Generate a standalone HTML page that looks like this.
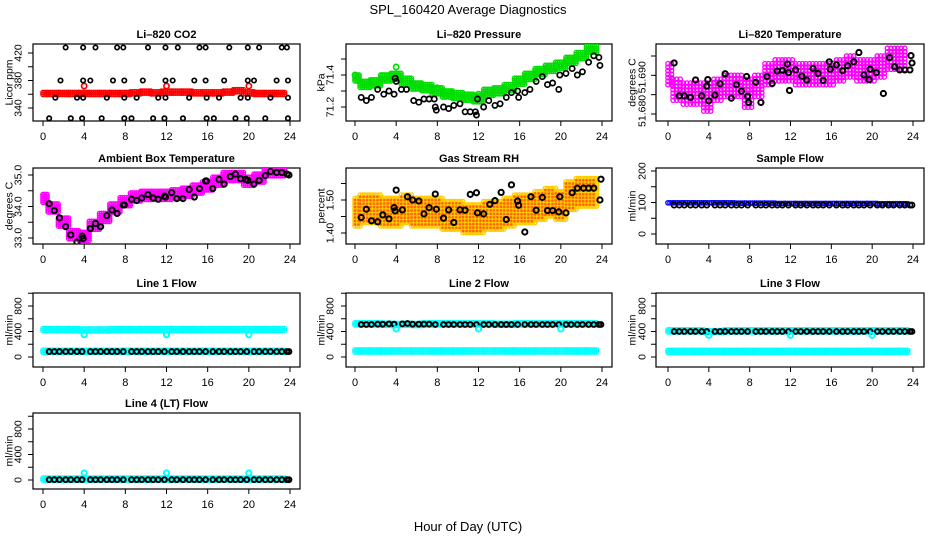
<!DOCTYPE html>
<html><head><meta charset="utf-8"><style>
html,body{margin:0;padding:0;background:#fff;}
svg{display:block;font-family:"Liberation Sans",sans-serif;}
</style></head><body>
<svg id="chart" width="936" height="540" viewBox="0 0 936 540">
<text x="468" y="14" text-anchor="middle" font-size="13">SPL_160420  Average Diagnostics</text>
<text x="468" y="531" text-anchor="middle" font-size="13">Hour of Day (UTC)</text>
</svg>
<script>
// ---------- data ----------
const xTicks = [0,4,8,12,16,20,24];
const hourBins = [0,1,2,3,4,5,6,7,8,9,10,11,12,13,14,15,16,17,18,19,20,21,22,23];
const halfHours = [0.6,1.1,1.6,2.2,2.7,3.3,3.8,4.6,5.1,5.6,6.2,6.7,7.2,7.8,8.6,9.1,9.6,10.2,10.7,11.2,11.8,12.5,13.0,13.6,14.2,14.7,15.2,15.8,16.5,17.1,17.6,18.2,18.7,19.2,19.8,20.5,21.0,21.6,22.1,22.7,23.2,23.7,23.9];

// CO2
const co2Red = [361,361,361,361,361,361,361,361,361,362,363,362,363,363,363,362,362,362,363,365,362,361,361,361];
const co2RedOutHours = [4,12,20];
const co2RedOutVals = [372,372,372];
const co2BlackHours = [2.2,3.9,5.1,7.2,7.8,10.2,11.9,13.1,15.2,15.8,18.1,19.9,21.0,23.2,23.7,
 1.7,3.9,4.6,6.8,7.9,9.7,11.9,12.6,14.7,15.8,17.6,19.9,20.5,22.7,23.8,
 1.2,3.3,3.9,6.2,7.9,9.1,11.2,11.9,14.2,15.9,17.1,19.2,19.9,22.1,23.8,
 0.6,2.7,3.8,5.7,7.9,8.6,10.7,11.8,13.6,15.9,16.6,18.7,19.8,21.6,23.8];
const co2BlackVals = [428,428,428,428,428,428,428,428,428,428,428,428,428,428,428,
 380,380,380,380,380,380,380,380,380,380,380,380,380,380,380,
 355,355,355,355,355,355,355,355,355,355,355,355,355,355,355,
 325,325,325,325,325,325,325,325,325,325,325,325,325,325,325];

// Pressure
const presGreen = [71.38,71.34,71.35,71.38,71.39,71.36,71.33,71.32,71.30,71.28,71.27,71.26,71.25,71.29,71.30,71.32,71.36,71.39,71.42,71.44,71.46,71.49,71.52,71.56];
const presGreenOutHours = [0,4,8,12,20];
const presGreenOutVals = [71.40,71.45,71.32,71.28,71.46];
const presBlackHours = [0.6,1.1,1.6,2.2,2.8,3.3,3.8,3.9,4.0,4.5,5.0,5.7,6.2,6.7,7.2,7.7,7.8,7.9,8.6,9.1,9.6,10.2,10.7,11.2,11.7,11.8,11.9,12.5,13.0,13.6,14.1,14.7,15.2,15.8,15.9,16.5,17.0,17.6,18.2,18.7,19.2,19.8,19.9,20.5,21.1,21.6,22.1,22.7,23.2,23.7,23.8];
const presBlackVals = [71.26,71.24,71.26,71.31,71.28,71.30,71.28,71.38,71.36,71.31,71.31,71.24,71.23,71.25,71.25,71.25,71.20,71.18,71.20,71.19,71.21,71.22,71.17,71.17,71.17,71.15,71.25,71.20,71.24,71.21,71.22,71.26,71.29,71.30,71.26,71.29,71.31,71.36,71.39,71.34,71.35,71.31,71.40,71.41,71.44,71.40,71.42,71.48,71.52,71.51,71.46];

// Li-820 temperature
const tempMag = [51.690,51.686,51.685,51.685,51.684,51.686,51.687,51.687,51.685,51.687,51.690,51.691,51.691,51.690,51.690,51.690,51.690,51.691,51.692,51.691,51.691,51.692,51.694,51.694];
const tempMagSpread = [0.003,0.003,0.003,0.003,0.004,0.003,0.003,0.003,0.004,0.003,0.003,0.003,0.003,0.003,0.003,0.003,0.003,0.003,0.003,0.003,0.003,0.003,0.003,0.003];
const tempBlackHours = [0.6,1.1,1.6,2.2,2.7,3.3,3.8,3.9,4.0,4.6,5.1,5.6,6.2,6.7,7.2,7.7,7.8,7.9,8.6,9.1,9.7,10.2,10.7,11.2,11.7,11.8,11.9,12.5,13.1,13.6,14.2,14.7,15.2,15.8,15.9,16.5,17.1,17.6,18.2,18.7,19.2,19.7,19.8,20.4,21.1,21.7,22.2,22.7,23.2,23.7,23.8,23.9];
const tempBlackVals = [51.6932,51.6847,51.6847,51.6843,51.6888,51.6847,51.6872,51.6889,51.6834,51.6849,51.6878,51.6904,51.6841,51.6876,51.6859,51.6897,51.6846,51.6830,51.6882,51.6830,51.6897,51.6879,51.6911,51.6913,51.6929,51.6907,51.6861,51.6914,51.6898,51.6888,51.6918,51.6905,51.6887,51.6935,51.6916,51.6927,51.6912,51.6925,51.6935,51.6959,51.6901,51.6889,51.6916,51.6907,51.6853,51.6946,51.6922,51.6914,51.6914,51.6914,51.6951,51.6932];

// Ambient box temperature
const ambMag = [34.25,33.95,33.50,33.10,33.05,33.40,33.65,33.95,34.15,34.30,34.35,34.35,34.35,34.40,34.45,34.55,34.65,34.80,34.95,34.95,34.80,34.90,35.10,35.10];
const ambBlackHours = [0.6,1.1,1.6,2.2,2.7,3.3,3.8,3.9,4.6,5.1,5.6,6.2,6.7,7.2,7.8,7.9,8.6,9.1,9.6,10.2,10.7,11.2,11.8,11.9,12.5,13.0,13.6,14.2,14.7,15.2,15.8,15.9,16.5,17.1,17.6,18.2,18.7,19.2,19.7,19.9,20.5,21.0,21.6,22.1,22.7,23.2,23.7,23.9];
const ambBlackVals = [34.09,33.87,33.64,33.36,33.10,32.87,33.06,32.98,33.30,33.46,33.36,33.71,33.89,33.78,34.05,34.05,34.23,34.19,34.27,34.38,34.27,34.23,34.33,34.30,34.44,34.25,34.25,34.54,34.30,34.57,34.81,34.81,34.57,34.86,34.71,34.95,35.03,34.88,34.86,34.83,34.71,34.83,34.98,35.11,35.08,35.08,35.03,35.00];

// Gas stream RH
const rhOrange = [1.46,1.47,1.47,1.46,1.46,1.47,1.46,1.46,1.46,1.45,1.45,1.44,1.44,1.45,1.45,1.46,1.47,1.47,1.48,1.49,1.48,1.51,1.52,1.52];
const rhBlackHours = [0.6,1.1,1.6,2.2,2.7,3.3,3.8,3.9,4.0,4.6,5.1,5.6,6.2,6.7,7.2,7.8,7.9,8.6,9.1,9.6,10.2,10.7,11.2,11.8,11.9,12.5,13.1,13.6,14.2,14.7,15.2,15.8,15.9,16.5,17.1,17.6,18.2,18.7,19.2,19.8,19.9,20.5,21.1,21.6,22.2,22.7,23.2,23.8,23.9];
const rhBlackVals = [1.447,1.472,1.437,1.434,1.455,1.443,1.477,1.467,1.530,1.470,1.510,1.500,1.497,1.458,1.477,1.518,1.472,1.445,1.470,1.432,1.470,1.469,1.517,1.522,1.461,1.458,1.487,1.498,1.523,1.441,1.546,1.497,1.484,1.403,1.510,1.469,1.508,1.468,1.468,1.464,1.510,1.461,1.522,1.536,1.536,1.536,1.536,1.500,1.563];

// Flows (hourly colored bands, half-hourly black points)
const sampleBlue = [96,96,96,96,96,96,96,95,95,95,95,94,94,94,94,94,94,94,94,94,94,93,93,93];
const sampleBlack = [92,92,92,92,92,92,92,92,92,92,92,92,92,92,92,92,92,92,92,92,92,92,92,92,92,92,92,92,92,92,92,92,92,92,92,92,92,92,92,92,92,92,92];
const line1CyanHi = [420,420,420,420,415,415,415,420,420,420,420,420,420,420,420,420,420,420,420,420,420,420,420,420];
const line1CyanLo = [80,80,80,80,80,80,80,80,80,80,80,80,80,80,80,80,80,80,80,80,80,80,80,80];
const line1Black = [85,85,85,85,85,85,85,85,85,85,85,85,85,85,85,85,85,85,85,85,85,85,85,85,85,85,85,85,85,85,85,85,85,85,85,85,85,85,85,85,85,85,85];
const line1OutVals = [350,350,350];
const line2CyanHi = [510,510,510,505,500,505,500,510,510,510,510,510,510,510,505,505,510,510,510,510,510,510,510,510];
const line2CyanLo = [85,85,85,85,85,85,85,85,85,85,85,85,85,85,85,85,85,85,85,85,85,85,85,85];
const line2Black = [510,510,510,515,515,520,515,520,525,515,515,515,515,510,510,510,510,510,510,510,510,510,510,510,510,510,510,510,510,510,510,510,510,510,510,510,510,510,510,510,510,510,510];
const line2OutVals = [440,440,440];
const line3CyanHi = [400,400,400,400,390,390,400,400,400,400,400,400,400,400,400,400,400,400,400,400,400,400,400,400];
const line3CyanLo = [80,80,80,80,80,80,80,80,80,80,80,80,80,80,80,80,80,80,80,80,80,80,80,80];
const line3Black = [400,400,400,400,400,400,400,400,400,400,400,400,400,400,400,400,400,400,400,400,400,400,400,400,400,400,400,400,400,400,400,400,400,400,400,400,400,400,400,400,400,400,400];
const line3OutVals = [340,340,340];
const line4Cyan = [5,5,5,5,5,5,5,5,5,5,5,5,5,5,5,5,5,5,5,5,5,5,5,5];
const line4Black = [5,5,5,5,5,5,5,5,5,5,5,5,5,5,5,5,5,5,5,5,5,5,5,5,5,5,5,5,5,5,5,5,5,5,5,5,5,5,5,5,5,5,5];
const line4OutVals = [110,110,110];
const outlierHours = [4,12,20];

// ---------- drawing ----------
const NS = "http://www.w3.org/2000/svg";
const svg = document.getElementById("chart");
function mk(tag, attrs, parent) {
  const e = document.createElementNS(NS, tag);
  for (const k in attrs) e.setAttribute(k, attrs[k]);
  (parent || svg).appendChild(e);
  return e;
}
const cols = [{l:33,r:300,x0:43,x24:290,ty:18,ly:9},{l:346,r:612,x0:355,x24:602,ty:330,ly:321},{l:656,r:924,x0:668,x24:913,ty:642,ly:632}];
const rows = [{t:44,b:121},{t:168,b:244},{t:293,b:367},{t:413,b:489}];

function panel(name, title, ci, ri, v1, y1, v2, y2, ticks, labels, ylab) {
  const c = cols[ci], r = rows[ri];
  const g = mk("g", {});
  
  
  const xs = h => c.x0 + (c.x24 - c.x0) * h / 24;
  const ys = v => y1 + (y2 - y1) * (v - v1) / (v2 - v1);
  const box = mk("rect", {x:c.l, y:r.t, width:c.r-c.l, height:r.b-r.t, fill:"none", stroke:"#000", "stroke-width":1.2}, g);
  
  
  const tt = mk("text", {x:(c.l+c.r)/2, y:r.t-6, "text-anchor":"middle", "font-size":11, "font-weight":"bold"}, g);
  tt.textContent = title;
  
  
  xTicks.forEach(h => {
    mk("line", {x1:xs(h), x2:xs(h), y1:r.b, y2:r.b+5, stroke:"#000"}, g);
    const t = mk("text", {x:xs(h), y:r.b+19, "text-anchor":"middle", "font-size":11}, g);
    t.textContent = h;
    
    
  });
  ticks.forEach(v => {
    mk("line", {x1:c.l-5, x2:c.l, y1:ys(v), y2:ys(v), stroke:"#000"}, g);
  });
  labels.forEach(lb => {
    const t = mk("text", {x:c.ty, y:ys(lb[0]), "text-anchor":"middle", "font-size":10.5, transform:`rotate(-90 ${c.ty} ${ys(lb[0])})`, dy:"0.35em"}, g);
    t.textContent = lb[1];
    
    
  });
  const yl = mk("text", {x:c.ly, y:(r.t+r.b)/2, "text-anchor":"middle", "font-size":10.5, transform:`rotate(-90 ${c.ly} ${(r.t+r.b)/2})`, dy:"0.35em"}, g);
  yl.textContent = ylab;
  
  
  const clip = "clip-" + name;
  const cp = mk("clipPath", {id:clip}, g);
  mk("rect", {x:c.l, y:r.t, width:c.r-c.l, height:r.b-r.t}, cp);
  const pg = mk("g", {"clip-path":`url(#${clip})`}, g);
  return {g:pg, xs, ys};
}
function pt(p, h, v, color, nm, r, sw) {
  const c = mk("circle", {cx:p.xs(h), cy:p.ys(v), r:r||2.6, fill:"none", stroke:color, "stroke-width":sw||1.7}, p.g);
  
  
}
// band of circles over each hourly bin, spanning value +/- spread
function band(p, vals, spread, color, nm, pxStep, rad) {
  vals.forEach((v, i) => {
    const h = hourBins[i];
    const s = Array.isArray(spread) ? spread[i] : spread;
    const hs = Math.max(0, h - 0.5), he = Math.min(23.9, h + 0.5);
    const yA = p.ys(v + s), yB = p.ys(v - s);
    const top = Math.min(yA, yB), bot = Math.max(yA, yB);
    for (let x = p.xs(hs); x <= p.xs(he); x += pxStep) {
      for (let y = top; y <= bot + 0.01; y += pxStep) {
        const c = mk("circle", {cx:x, cy:y, r:rad||2.2, fill:"none", stroke:color, "stroke-width":1.3}, p.g);
        
        
      }
    }
  });
}

// Panel 1: CO2
let p = panel("co2-panel", "Li\u2013820 CO2", 0, 0, 420, 53, 340, 108, [420,400,380,360,340], [[420,"420"],[380,"380"],[340,"340"]], "Licor ppm");
band(p, co2Red, 1.5, "#ff0000", "co2-red-point", 2);
co2RedOutHours.forEach((h,i) => pt(p, h, co2RedOutVals[i], "#ff0000", "co2-red-outlier"));
co2BlackHours.forEach((h,i) => pt(p, h, co2BlackVals[i], "#000", "co2-black-point", 2.2));

// Panel 2: Pressure
p = panel("pressure-panel", "Li\u2013820 Pressure", 1, 0, 71.4, 75, 71.2, 107, [71.5,71.4,71.3,71.2], [[71.4,"71.4"],[71.2,"71.2"]], "kPa");
band(p, presGreen, 0.02, "#00dd00", "pressure-green-point", 2);
presGreenOutHours.forEach((h,i) => pt(p, h, presGreenOutVals[i], "#00dd00", "pressure-green-outlier"));
presBlackHours.forEach((h,i) => pt(p, h, presBlackVals[i], "#000", "pressure-black-point"));

// Panel 3: Li-820 Temperature
p = panel("li820-temp-panel", "Li\u2013820 Temperature", 2, 0, 51.680, 114, 51.695, 56, [51.680,51.685,51.690,51.695], [[51.6808,"51.680"],[51.6895,"51.690"]], "degrees C");
band(p, tempMag, tempMagSpread, "#ff00ff", "li820-temp-magenta-point", 3.5);
tempBlackHours.forEach((h,i) => pt(p, h, tempBlackVals[i], "#000", "li820-temp-black-point", 2.6, 2));

// Panel 4: Ambient box temperature
p = panel("ambient-temp-panel", "Ambient Box Temperature", 0, 1, 35, 175, 33, 238, [35,34.5,34,33.5,33], [[35,"35.0"],[34,"34.0"],[33,"33.0"]], "degrees C");
band(p, ambMag, 0.13, "#ff00ff", "ambient-magenta-point", 2);
ambBlackHours.forEach((h,i) => pt(p, h, ambBlackVals[i], "#000", "ambient-black-point", 2.6, 2));

// Panel 5: RH
p = panel("rh-panel", "Gas Stream RH", 1, 1, 1.5, 200, 1.4, 233, [1.55,1.5,1.45,1.4], [[1.5,"1.50"],[1.4,"1.40"]], "percent");
band(p, rhOrange, 0.045, "#ffcc00", "rh-yellow-point", 2.5);
band(p, rhOrange, 0.04, "#ff6600", "rh-orange-dot", 3.5, 0.7);
rhBlackHours.forEach((h,i) => pt(p, h, rhBlackVals[i], "#000", "rh-black-point", 2.6, 2));

// Panel 6: Sample flow
p = panel("sample-flow-panel", "Sample Flow", 2, 1, 200, 171, 0, 234, [200,150,100,50,0], [[0,"0"],[100,"100"],[200,"200"]], "ml/min");
band(p, sampleBlue, 3, "#0000ff", "sample-blue-point", 2);
halfHours.forEach((h,i) => pt(p, h, sampleBlack[i], "#000", "sample-black-point"));

// Line flows
const flowTicks = [1000,800,600,400,200,0];
const flowLabels = [[0,"0"],[400,"400"],[800,"800"]];
function flowPanel(name, title, ci, ri, y0, y800, hi, lo, black, outs) {
  const q = panel(name, title, ci, ri, 0, y0, 800, y800, flowTicks, flowLabels, "ml/min");
  if (hi) band(q, hi, 25, "#00ffff", name + "-cyan-point", 2);
  band(q, lo, 25, "#00ffff", name + "-cyan-point", 2);
  halfHours.forEach((h,i) => pt(q, h, black[i], "#000", name + "-black-point", 2.4, 2));
  outlierHours.forEach((h,i) => pt(q, h, outs[i], "#00ffff", name + "-cyan-outlier", 2.6, 2));
}
flowPanel("line1-flow-panel", "Line 1 Flow", 0, 2, 357, 306, line1CyanHi, line1CyanLo, line1Black, line1OutVals);
flowPanel("line2-flow-panel", "Line 2 Flow", 1, 2, 357, 306, line2CyanHi, line2CyanLo, line2Black, line2OutVals);
flowPanel("line3-flow-panel", "Line 3 Flow", 2, 2, 357, 306, line3CyanHi, line3CyanLo, line3Black, line3OutVals);
flowPanel("line4-flow-panel", "Line 4 (LT) Flow", 0, 3, 480, 429, null, line4Cyan, line4Black, line4OutVals);
</script>
</body></html>
